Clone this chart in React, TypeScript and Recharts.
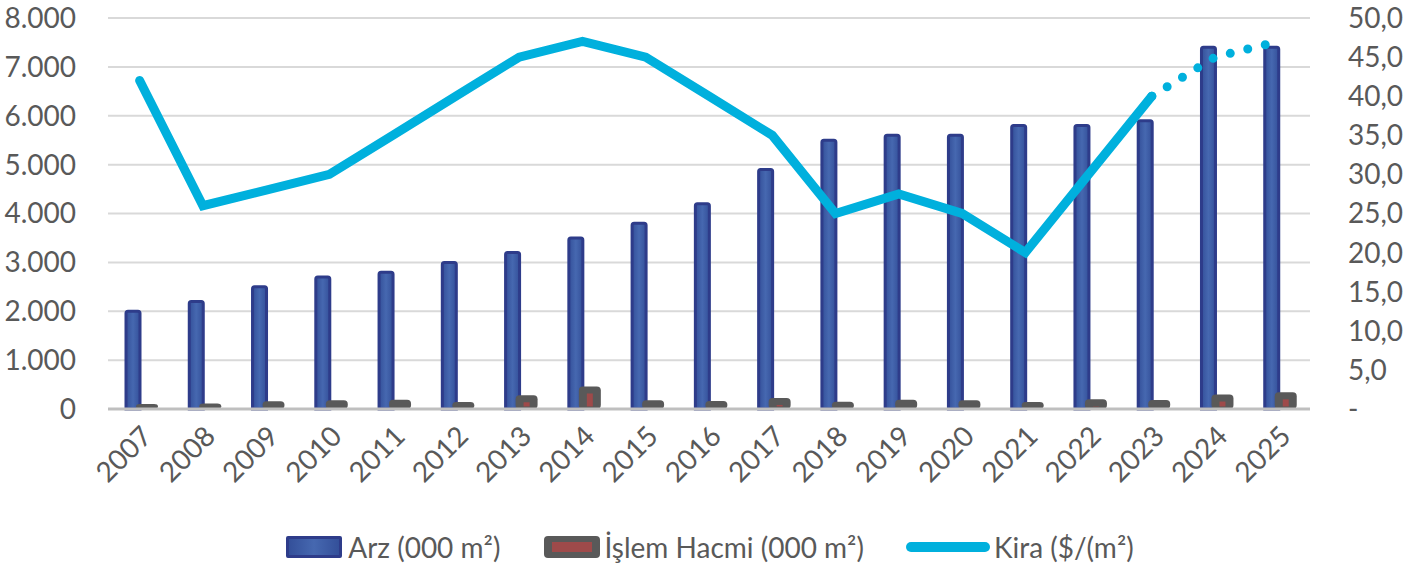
import React from "react";
import {
  ComposedChart,
  Bar,
  Line,
  XAxis,
  YAxis,
  CartesianGrid,
  Legend,
} from "recharts";

const years = [
  "2007", "2008", "2009", "2010", "2011", "2012", "2013", "2014", "2015", "2016",
  "2017", "2018", "2019", "2020", "2021", "2022", "2023", "2024", "2025",
];
const arz = [
  2000, 2200, 2500, 2700, 2800, 3000, 3200, 3500, 3800, 4200,
  4900, 5500, 5600, 5600, 5800, 5800, 5900, 7400, 7400,
];
const islemHacmi = [
  60, 70, 120, 140, 150, 100, 240, 420, 140, 125,
  185, 105, 150, 140, 100, 160, 145, 255, 300,
];
const kiraSolid: (number | null)[] = [
  42, 26, 28, 30, 35, 40, 45, 47, 45, 40,
  35, 25, 27.5, 25, 20, 30, 40, null, null,
];
const kiraForecast: (number | null)[] = [
  null, null, null, null, null, null, null, null, null, null,
  null, null, null, null, null, null, 40, 45, 47,
];
const leftTicks = [0, 1000, 2000, 3000, 4000, 5000, 6000, 7000, 8000];
const rightTicks = [0, 5, 10, 15, 20, 25, 30, 35, 40, 45, 50];

const data = years.map((y, i) => ({
  year: y,
  arz: arz[i],
  islem: islemHacmi[i],
  kira: kiraSolid[i],
  kiraF: kiraForecast[i],
}));

const FONT = "Lato, 'Open Sans', sans-serif";
const TEXT = "#595959";
const BLUE_BORDER = "#2E3C8A";
const KIRA = "#00B0DD";

const fmtLeft = (v: number) => (v === 0 ? "0" : v.toLocaleString("de-DE"));
const fmtRight = (v: number) => (v === 0 ? "-" : v.toFixed(1).replace(".", ","));

const GrayShape = (props: any) => {
  const { x, y, width, height } = props;
  if (width == null || height == null || height <= 0) return null;
  const ox = x - 4;
  const ow = width + 8;
  const oy = y - 2;
  const oh = height + 2;
  const cx = x + width / 2;
  const ih = height - 7.5;
  return (
    <g>
      <rect x={ox} y={oy} width={ow} height={oh} rx={4} ry={4} fill="#595959" />
      {ih > 0 && (
        <rect x={cx - 3} y={y + 5} width={6} height={ih} fill="#9E4A4A" />
      )}
    </g>
  );
};

const renderLegend = () => (
  <div
    style={{
      display: "flex",
      justifyContent: "center",
      alignItems: "center",
      fontFamily: FONT,
      fontSize: 28,
      color: TEXT,
      height: 50,
      paddingTop: 6,
      boxSizing: "border-box",
    }}
  >
    <div style={{ display: "flex", alignItems: "center", marginRight: 44 }}>
      <div
        style={{
          width: 50,
          height: 16,
          border: `3px solid ${BLUE_BORDER}`,
          borderRadius: 2,
          background: "linear-gradient(90deg,#34509A,#4668B0,#34509A)",
          marginRight: 6,
        }}
      />
      <span>Arz (000 m²)</span>
    </div>
    <div style={{ display: "flex", alignItems: "center", marginRight: 42 }}>
      <div
        style={{
          width: 56,
          height: 22,
          background: "#595959",
          borderRadius: 4,
          marginRight: 4,
          display: "flex",
          alignItems: "center",
          justifyContent: "center",
        }}
      >
        <div style={{ width: 40, height: 10, background: "#9E4A4A" }} />
      </div>
      <span>İşlem Hacmi (000 m²)</span>
    </div>
    <div style={{ display: "flex", alignItems: "center" }}>
      <div
        style={{
          width: 84,
          height: 10,
          background: KIRA,
          borderRadius: 5,
          marginRight: 4,
        }}
      />
      <span>Kira ($/(m²)</span>
    </div>
  </div>
);

export default function App() {
  return (
    <div style={{ position: "absolute", left: 0, top: 0, width: 1420, height: 569, background: "#fff" }}>
      <style>{`body{margin:0;}`}</style>
      <ComposedChart
        width={1420}
        height={569}
        data={data}
        margin={{ top: 18, right: 0, bottom: 0, left: 0 }}
        barGap={0}
        barCategoryGap="27%"
      >
        <defs>
          <linearGradient id="arzGrad" x1="0" y1="0" x2="1" y2="0">
            <stop offset="0%" stopColor="#34509A" />
            <stop offset="50%" stopColor="#4668B0" />
            <stop offset="100%" stopColor="#34509A" />
          </linearGradient>
        </defs>
        <CartesianGrid
          yAxisId="left"
          vertical={false}
          stroke="#D9D9D9"
          strokeWidth={2}
        />
        <XAxis
          dataKey="year"
          height={110}
          axisLine={{ stroke: "#BFBFBF", strokeWidth: 3 }}
          tickLine={false}
          interval={0}
          angle={-45}
          textAnchor="end"
          tickSize={6}
          tickMargin={9}
          tick={{ fill: TEXT, fontSize: 28, fontFamily: FONT }}
        />
        <YAxis
          yAxisId="left"
          orientation="left"
          width={108}
          domain={[0, 8000]}
          ticks={leftTicks}
          tickFormatter={fmtLeft}
          axisLine={false}
          tickLine={false}
          tickSize={8}
          tickMargin={24}
          tick={{ fill: TEXT, fontSize: 28, fontFamily: FONT }}
        />
        <YAxis
          yAxisId="right"
          orientation="right"
          width={110}
          domain={[0, 50]}
          ticks={rightTicks}
          tickFormatter={fmtRight}
          axisLine={false}
          tickLine={false}
          tickSize={8}
          tickMargin={30}
          tick={{ fill: TEXT, fontSize: 28, fontFamily: FONT }}
        />
        <Legend verticalAlign="bottom" height={50} content={renderLegend} />
        <Bar
          yAxisId="left"
          dataKey="arz"
          name="Arz (000 m²)"
          barSize={14}
          fill="url(#arzGrad)"
          stroke={BLUE_BORDER}
          strokeWidth={3}
          radius={[2, 2, 0, 0]}
          isAnimationActive={false}
        />
        <Bar
          yAxisId="left"
          dataKey="islem"
          name="İşlem Hacmi (000 m²)"
          barSize={14}
          fill="#595959"
          shape={GrayShape}
          isAnimationActive={false}
        />
        <Line
          yAxisId="right"
          type="linear"
          dataKey="kira"
          name="Kira ($/(m²)"
          stroke={KIRA}
          strokeWidth={9}
          strokeLinecap="round"
          dot={false}
          activeDot={false}
          isAnimationActive={false}
        />
        <Line
          yAxisId="right"
          type="linear"
          dataKey="kiraF"
          legendType="none"
          stroke={KIRA}
          strokeWidth={9}
          strokeLinecap="round"
          strokeDasharray="0 18"
          dot={false}
          activeDot={false}
          isAnimationActive={false}
        />
      </ComposedChart>
    </div>
  );
}
